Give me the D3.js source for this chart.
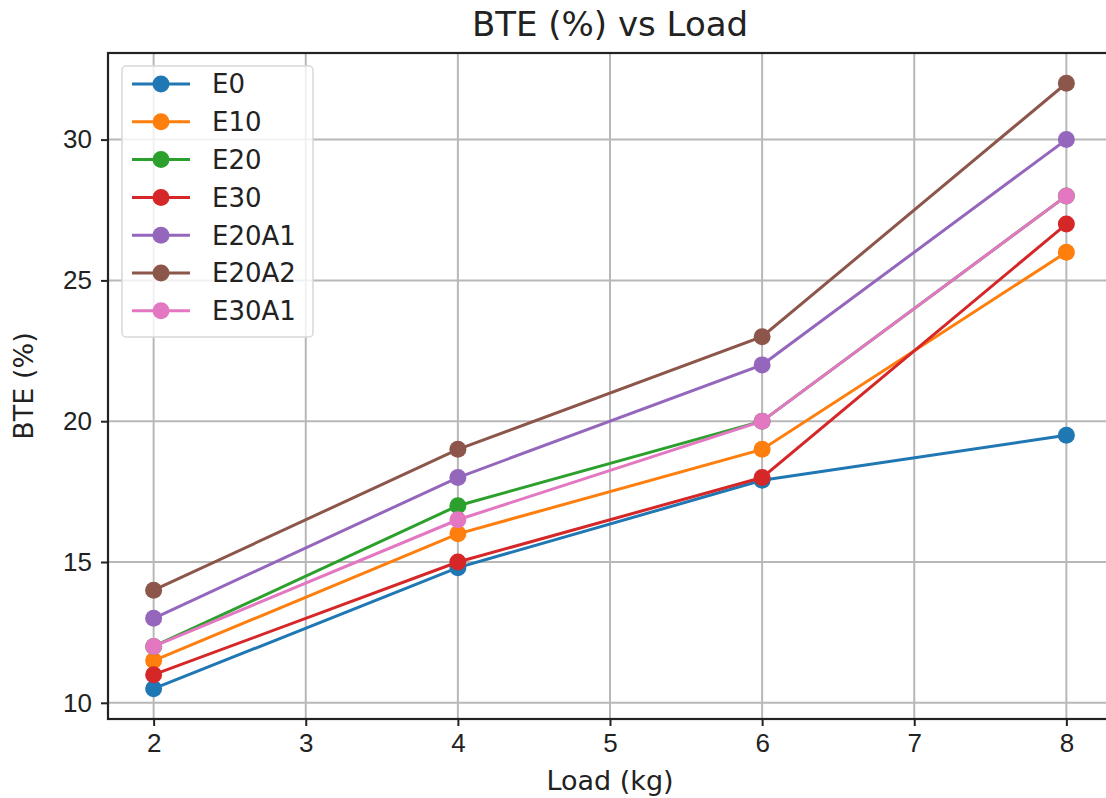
<!DOCTYPE html>
<html>
<head>
<meta charset="utf-8">
<script src="https://cdn.jsdelivr.net/npm/d3@7"></script>
<style>
  body { margin: 0; background: #fff; }
  svg { font-family: "DejaVu Sans", sans-serif; }
</style>
</head>
<body>
<script>
// chart values
const loads = [2, 4, 6, 8];
const seriesNames = ["E0", "E10", "E20", "E30", "E20A1", "E20A2", "E30A1"];
const E0 = [10.5, 14.8, 17.9, 19.5];
const E10 = [11.5, 16, 19, 26];
const E20 = [12, 17, 20, 28];
const E30 = [11, 15, 18, 27];
const E20A1 = [13, 18, 22, 30];
const E20A2 = [14, 19, 23, 32];
const E30A1 = [12, 16.5, 20, 28];
const xTicks = [2, 3, 4, 5, 6, 7, 8];
const yTicks = [10, 15, 20, 25, 30];
const colors = ["#1f77b4", "#ff7f0e", "#2ca02c", "#d62728", "#9467bd", "#8c564b", "#e377c2"];

const seriesValues = [E0, E10, E20, E30, E20A1, E20A2, E30A1];
const series = seriesNames.map((name, i) => ({
    name: name,
    color: colors[i],
    points: loads.map((x, j) => ({ x: x, y: seriesValues[i][j] }))
}));

const margin = { top: 53, bottom: 79, left: 108, right: -6 };
const W = 1106, H = 798;
const width = W - margin.left - margin.right;
const height = H - margin.top - margin.bottom;

const svg = d3.select("body").append("svg")
    .attr("width", W)
    .attr("height", H);

const g = svg.append("g")
    .attr("transform", `translate(${margin.left},${margin.top})`);

const x = d3.scaleLinear().domain([1.7, 8.3]).range([0, width]);
const y = d3.scaleLinear().domain([9.425, 33.075]).range([height, 0]);

// grid
g.append("g").selectAll("line")
    .data(xTicks).join("line")
    .attr("x1", d => x(d)).attr("x2", d => x(d))
    .attr("y1", 0).attr("y2", height)
    .attr("stroke", "#b8b8b8").attr("stroke-width", 2);
g.append("g").selectAll("line")
    .data(yTicks).join("line")
    .attr("y1", d => y(d)).attr("y2", d => y(d))
    .attr("x1", 0).attr("x2", width)
    .attr("stroke", "#b8b8b8").attr("stroke-width", 2);

// axes
const xaxis = d3.axisBottom(x).tickValues(xTicks).tickFormat(d3.format("d")).tickSize(7).tickPadding(8);
const yaxis = d3.axisLeft(y).tickValues(yTicks).tickFormat(d3.format("d")).tickSize(7).tickPadding(9);
const gx = g.append("g").attr("transform", `translate(0,${height})`).call(xaxis);
const gy = g.append("g").call(yaxis);
[gx, gy].forEach(a => {
    a.select(".domain").remove();
    a.selectAll(".tick line").attr("stroke", "#222").attr("stroke-width", 2);
    a.selectAll(".tick text").attr("fill", "#222").style("font-size", "26px");
});

// spines
g.append("rect")
    .attr("width", width).attr("height", height)
    .attr("fill", "none").attr("stroke", "#222").attr("stroke-width", 2.2);

// lines
const line = d3.line().x(d => x(d.x)).y(d => y(d.y));
const sg = g.append("g").selectAll("g").data(series).join("g");
sg.append("path")
    .attr("d", d => line(d.points))
    .attr("fill", "none")
    .attr("stroke", d => d.color)
    .attr("stroke-width", 3);
sg.selectAll("circle")
    .data(d => d.points.map(p => ({ ...p, color: d.color })))
    .join("circle")
    .attr("cx", d => x(d.x)).attr("cy", d => y(d.y))
    .attr("r", 8.5)
    .attr("fill", d => d.color);

// legend
const legend = g.append("g").attr("transform", "translate(14,13)");
legend.append("rect")
    .attr("width", 191).attr("height", 271).attr("rx", 4)
    .attr("fill", "rgba(255,255,255,0.8)")
    .attr("stroke", "#d8d8d8").attr("stroke-width", 1.5);
const item = legend.selectAll("g.item").data(series).join("g")
    .attr("class", "item")
    .attr("transform", (d, i) => `translate(0,${18 + i * 37.8})`);
item.append("line")
    .attr("x1", 10).attr("x2", 68)
    .attr("stroke", d => d.color).attr("stroke-width", 3);
item.append("circle")
    .attr("cx", 39).attr("r", 8.5).attr("fill", d => d.color);
item.append("text")
    .attr("x", 90).attr("dy", "0.36em")
    .attr("fill", "#222")
    .style("font-size", "26px")
    .text(d => d.name);

// title and labels
svg.append("text")
    .attr("x", margin.left + width / 2).attr("y", 36)
    .attr("text-anchor", "middle")
    .attr("fill", "#222")
    .style("font-size", "34px")
    .text("BTE (%) vs Load");
svg.append("text")
    .attr("x", margin.left + width / 2).attr("y", 790)
    .attr("text-anchor", "middle")
    .attr("fill", "#222")
    .style("font-size", "27px")
    .text("Load (kg)");
svg.append("text")
    .attr("transform", `translate(33,${margin.top + height / 2}) rotate(-90)`)
    .attr("text-anchor", "middle")
    .attr("fill", "#222")
    .style("font-size", "27px")
    .text("BTE (%)");
</script>
</body>
</html>
